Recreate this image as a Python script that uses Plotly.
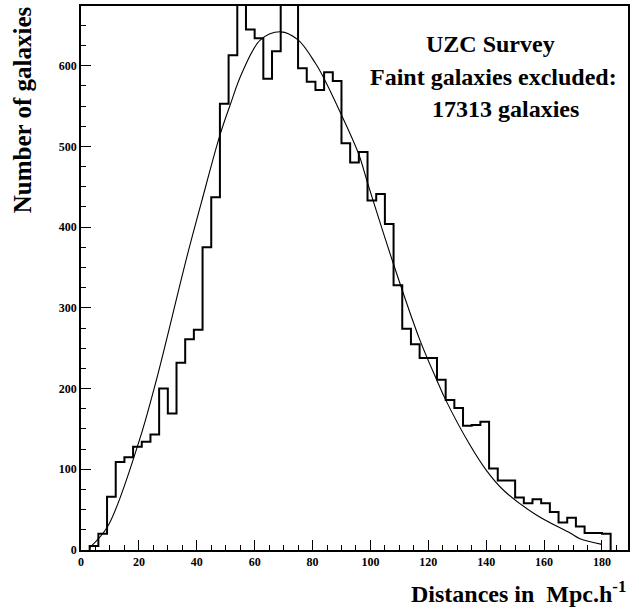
import plotly.graph_objects as go

# histogram: bins of width 3 Mpc/h, left edges from 3 to 180
bin_left = list(range(3, 183, 3))
counts = [5, 20, 66, 109, 115, 128, 134, 143, 200, 169,
          232, 261, 273, 375, 437, 553, 613, 730, 645, 634,
          584, 618, 750, 700, 597, 580, 570, 592, 581, 504,
          480, 493, 433, 441, 404, 328, 274, 255, 238, 238,
          211, 186, 176, 154, 155, 159, 101, 86, 86, 65,
          58, 63, 58, 47, 34, 40, 29, 21, 21, 20]
bin_width = 3

# fitted curve
fit_x = [3, 9.2, 20, 26, 36.5, 41.7, 48, 51.5, 55.5, 62, 69, 75, 81, 84, 90,
         96, 99, 108, 117, 123, 126, 134.4, 140, 146, 157.5, 169, 172.4, 180]
fit_y = [3, 29, 134, 210, 362, 432, 514, 551, 590, 632, 642, 632, 603, 584, 539,
         490, 455, 354, 261, 210, 186, 130, 99, 74, 43, 21, 14, 7]

x_ticks = [0, 20, 40, 60, 80, 100, 120, 140, 160, 180]
y_ticks = [0, 100, 200, 300, 400, 500, 600]

# step outline of the histogram
step_x = [bin_left[0]] + bin_left + [bin_left[-1] + bin_width, bin_left[-1] + bin_width]
step_y = [0] + counts + [counts[-1], 0]

serif = "Liberation Serif"

fig = go.Figure()
fig.add_trace(go.Scatter(x=step_x, y=step_y, mode="lines", line_shape="hv",
                         line=dict(color="black", width=2), hoverinfo="skip"))
fig.add_trace(go.Scatter(x=fit_x, y=fit_y, mode="lines", line_shape="spline",
                         line=dict(color="black", width=1.1, smoothing=1.0), hoverinfo="skip"))

axis_common = dict(showgrid=False, zeroline=False, showline=True, linecolor="black",
                   linewidth=1.5, mirror=True, ticks="inside", tickcolor="black",
                   tickwidth=1.2, ticklen=10,
                   tickfont=dict(family=serif, size=12, color="black", weight="bold"))

fig.update_xaxes(range=[0, 189], tickvals=x_ticks,
                 minor=dict(dtick=5, ticklen=5, tickcolor="black", ticks="inside", tickwidth=1.2),
                 **axis_common)
fig.update_yaxes(range=[0, 674], tickvals=y_ticks,
                 minor=dict(dtick=25, ticklen=5, tickcolor="black", ticks="inside", tickwidth=1.2),
                 **axis_common)

big = dict(family=serif, size=24, color="black", weight="bold")
notes = [
    ("UZC Survey", 0.7495, 0.930),
    ("Faint galaxies excluded:", 0.755, 0.870),
    ("17313 galaxies", 0.776, 0.811),
]
for text, px, py in notes:
    fig.add_annotation(text=text, x=px, y=py, xref="paper", yref="paper",
                       xanchor="center", yanchor="middle", showarrow=False, font=big)

fig.add_annotation(text="Distances in  Mpc.h<sup>-1</sup>", x=1.0, y=-0.078,
                   xref="paper", yref="paper", xanchor="right", yanchor="middle",
                   showarrow=False, font=dict(family=serif, size=24, color="black", weight="bold"))
fig.add_annotation(text="Number of galaxies", x=-0.108, y=1.004, textangle=-90,
                   xref="paper", yref="paper", xanchor="center", yanchor="top",
                   showarrow=False, font=dict(family=serif, size=25, color="black", weight="bold"))

fig.update_layout(width=639, height=614, showlegend=False,
                  paper_bgcolor="white", plot_bgcolor="white",
                  margin=dict(l=81, r=11, t=4, b=64))

# drop the browser's default body margin so the figure sits at the page corner
fig.write_html("out.html", config={"displayModeBar": False},
               post_script="document.body.style.margin='0';")
